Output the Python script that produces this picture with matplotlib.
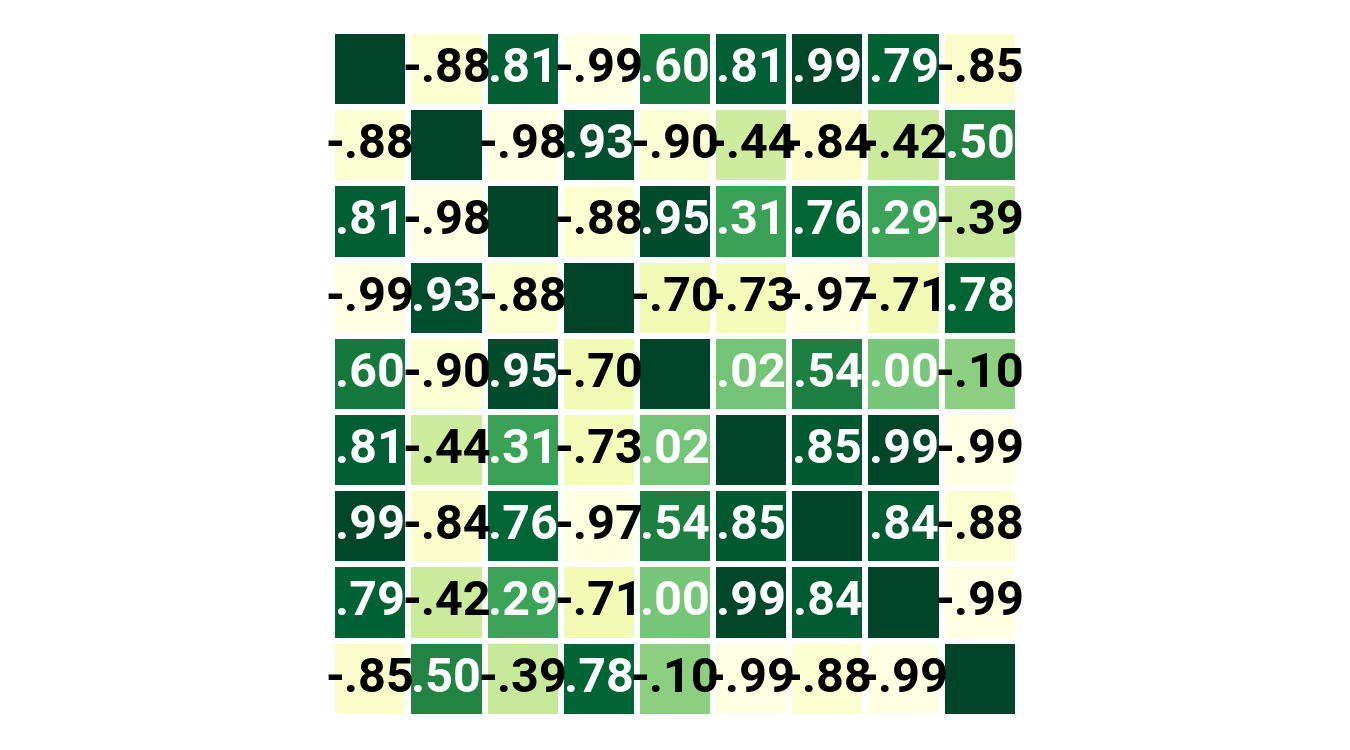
import numpy as np
import matplotlib
matplotlib.use("Agg")
import matplotlib.pyplot as plt
import seaborn as sns

# upper triangle of the correlation matrix, row by row
corr = np.array([
    [1.00, -0.88, 0.81, -0.99, 0.60, 0.81, 0.99, 0.79, -0.85],
    [-0.88, 1.00, -0.98, 0.93, -0.90, -0.44, -0.84, -0.42, 0.50],
    [0.81, -0.98, 1.00, -0.88, 0.95, 0.31, 0.76, 0.29, -0.39],
    [-0.99, 0.93, -0.88, 1.00, -0.70, -0.73, -0.97, -0.71, 0.78],
    [0.60, -0.90, 0.95, -0.70, 1.00, 0.02, 0.54, 0.00, -0.10],
    [0.81, -0.44, 0.31, -0.73, 0.02, 1.00, 0.85, 0.99, -0.99],
    [0.99, -0.84, 0.76, -0.97, 0.54, 0.85, 1.00, 0.84, -0.88],
    [0.79, -0.42, 0.29, -0.71, 0.00, 0.99, 0.84, 1.00, -0.99],
    [-0.85, 0.50, -0.39, 0.78, -0.10, -0.99, -0.88, -0.99, 1.00],
])

n = corr.shape[0]
labels = np.empty((n, n), dtype=object)
for i in range(n):
    for j in range(n):
        if i == j:
            labels[i, j] = ""
        else:
            s = "%.2f" % corr[i, j]
            labels[i, j] = s.replace("0.", ".", 1)

fig = plt.figure(figsize=(13.5, 7.5), dpi=100)
ax = fig.add_axes([0.246, 0.044, 0.508, 0.915])
sns.heatmap(corr, cmap="YlGn", vmin=-1, vmax=1, annot=labels, fmt="",
            cbar=False, linewidths=4.3, linecolor="white", square=True,
            xticklabels=False, yticklabels=False, ax=ax,
            annot_kws={"fontsize": 35, "fontweight": "bold", "family": ["Roboto", "DejaVu Sans"]})

# white text on the greener half, black on the yellow half
k = 0
for i in range(n):
    for j in range(n):
        t = ax.texts[k]
        k += 1
        t.set_color("white" if corr[i, j] >= 0 else "black")

fig.savefig("out.png", dpi=100)
